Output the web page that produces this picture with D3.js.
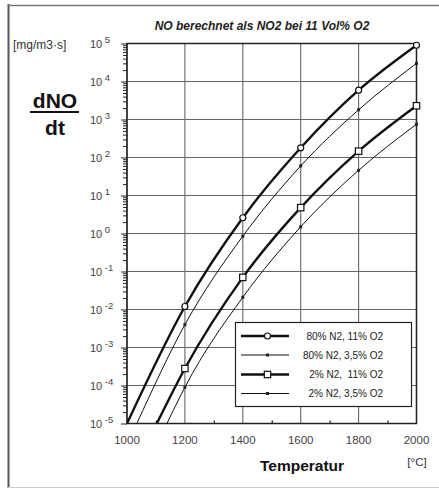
<!DOCTYPE html>
<html>
<head>
<meta charset="utf-8">
<script src="https://cdn.jsdelivr.net/npm/d3@7"></script>
<style>
  html, body { margin: 0; padding: 0; background: #fff; }
  svg { display: block; font-family: "Liberation Sans", Arial, sans-serif; }
</style>
</head>
<body>
<svg id="chart" width="439" height="490"></svg>
<script>
// Temperatures with markers (°C)
const temps = [1200, 1400, 1600, 1800, 2000];

// Formation rate dNO/dt [mg/m3·s] per mixture at the marked temperatures
const s80n11o = [1.2e-2, 2.6, 180, 5900, 90000];
const s80n35o = [4.0e-3, 0.85, 60, 1800, 30000];
const s2n11o  = [2.8e-4, 0.07, 4.8, 147, 2300];
const s2n35o  = [9.0e-5, 0.021, 1.5, 46, 750];

// Temperature where each curve enters the chart at the 10^-5 floor
const entryTemps = [1000, 1034, 1103, 1138];
const floorValue = 1e-5;

const seriesNames = ["80% N2, 11% O2", "80% N2, 3,5% O2", "2% N2,  11% O2", "2% N2, 3,5% O2"];
const seriesValues = [s80n11o, s80n35o, s2n11o, s2n35o];
const seriesStyle = [
  { width: 2.4, marker: "circle" },
  { width: 1.0, marker: "dot" },
  { width: 2.4, marker: "square" },
  { width: 1.0, marker: "dot" }
];

const xTicks = [1000, 1200, 1400, 1600, 1800, 2000];
const yExponents = [5, 4, 3, 2, 1, 0, -1, -2, -3, -4, -5];

const svg = d3.select("#chart");

// Outer frame
svg.append("line").attr("x1", 8.5).attr("x2", 8.5).attr("y1", 4).attr("y2", 488)
  .attr("stroke", "#555").attr("stroke-width", 2);
svg.append("line").attr("x1", 8).attr("x2", 439).attr("y1", 5.5).attr("y2", 5.5)
  .attr("stroke", "#777").attr("stroke-width", 1.5);
svg.append("line").attr("x1", 8).attr("x2", 439).attr("y1", 487.5).attr("y2", 487.5)
  .attr("stroke", "#ccc").attr("stroke-width", 1);

const pLeft = 127, pRight = 416.5, pTop = 43.5, pBottom = 423.5;
const x = d3.scaleLinear().domain([1000, 2000]).range([pLeft, pRight]);
const y = d3.scaleLog().domain([1e-5, 1e5]).range([pBottom, pTop]);

// Grid
const grid = svg.append("g").attr("stroke", "#666").attr("stroke-width", 1.1);
yExponents.forEach(e => {
  grid.append("line").attr("x1", pLeft).attr("x2", pRight)
    .attr("y1", y(Math.pow(10, e))).attr("y2", y(Math.pow(10, e)));
});
xTicks.forEach(t => {
  grid.append("line").attr("x1", x(t)).attr("x2", x(t)).attr("y1", pTop).attr("y2", pBottom);
});

// Y axis with log minor ticks
const yAxis = d3.axisLeft(y)
  .tickValues(d3.range(-5, 5).flatMap(e => d3.range(1, 10).map(m => m * Math.pow(10, e))).concat([1e5]))
  .tickSize(4).tickFormat("");
const yg = svg.append("g").attr("transform", `translate(${pLeft},0)`).call(yAxis);
yg.select(".domain").remove();
yg.selectAll(".tick line").attr("stroke", "#222").attr("stroke-width", 1)
  .attr("x2", d => Math.abs(Math.log10(d) - Math.round(Math.log10(d))) < 1e-9 ? -6 : -4);

// Y tick labels: 10 with superscript exponent
const ylab = svg.append("g").attr("font-size", 11).attr("fill", "#444");
yExponents.forEach(e => {
  const t = ylab.append("text").attr("x", 90).attr("y", y(Math.pow(10, e)) + 4);
  t.append("tspan").text("10");
  t.append("tspan").attr("dx", 2.5).attr("dy", -5).attr("font-size", 9.5).text(e < 0 ? "-" + (-e) : String(e));
});

// X axis: minor ticks every 100 °C
const xAxis = d3.axisBottom(x).tickValues(d3.range(1100, 2000, 200)).tickSize(-3).tickFormat("");
const xg = svg.append("g").attr("transform", `translate(0,${pBottom})`).call(xAxis);
xg.select(".domain").remove();
xg.selectAll(".tick line").attr("stroke", "#222").attr("stroke-width", 1.2);

svg.append("g").attr("font-size", 11.5).attr("fill", "#444").attr("text-anchor", "middle")
  .selectAll("text").data(xTicks).join("text")
  .attr("x", d => x(d)).attr("y", pBottom + 20).text(d => d);

// Plot border
svg.append("rect").attr("x", pLeft).attr("y", pTop).attr("width", pRight - pLeft).attr("height", pBottom - pTop)
  .attr("fill", "none").attr("stroke", "#222").attr("stroke-width", 1.5);

// Curves
svg.append("clipPath").attr("id", "plotclip").append("rect")
  .attr("x", pLeft).attr("y", pTop - 2).attr("width", pRight - pLeft + 2).attr("height", pBottom - pTop + 2);
const line = d3.line().x(d => x(d[0])).y(d => y(d[1])).curve(d3.curveMonotoneX);
const curves = svg.append("g").attr("clip-path", "url(#plotclip)");

function drawMarker(g, type, cx, cy) {
  if (type === "circle") {
    g.append("circle").attr("cx", cx).attr("cy", cy).attr("r", 3)
      .attr("fill", "#fff").attr("stroke", "#111").attr("stroke-width", 1.2);
  } else if (type === "square") {
    g.append("rect").attr("x", cx - 3.2).attr("y", cy - 3.2).attr("width", 6.4).attr("height", 6.4)
      .attr("fill", "#fff").attr("stroke", "#111").attr("stroke-width", 1.2);
  } else {
    g.append("rect").attr("x", cx - 1.5).attr("y", cy - 1.5).attr("width", 3).attr("height", 3)
      .attr("fill", "#222");
  }
}

seriesValues.forEach((vals, i) => {
  const pts = [[entryTemps[i], floorValue]].concat(temps.map((t, j) => [t, vals[j]]));
  curves.append("path").attr("d", line(pts)).attr("fill", "none")
    .attr("stroke", "#111").attr("stroke-width", seriesStyle[i].width).attr("stroke-linejoin", "round");
});
seriesValues.forEach((vals, i) => {
  temps.forEach((t, j) => drawMarker(svg, seriesStyle[i].marker, x(t), y(vals[j])));
});

// Legend
const lg = svg.append("g");
lg.append("rect").attr("x", 235.5).attr("y", 322.5).attr("width", 176).attr("height", 84)
  .attr("fill", "#fff").attr("stroke", "#222").attr("stroke-width", 1.2);
const rowY = [336, 355, 374.5, 393.5];
seriesNames.forEach((name, i) => {
  lg.append("line").attr("x1", 241).attr("x2", 289).attr("y1", rowY[i]).attr("y2", rowY[i])
    .attr("stroke", "#111").attr("stroke-width", seriesStyle[i].width);
  drawMarker(lg, seriesStyle[i].marker, 267.5, rowY[i]);
  lg.append("text").attr("x", 383).attr("y", rowY[i] + 3.5).attr("text-anchor", "end")
    .attr("font-size", 10).attr("fill", "#222").attr("xml:space", "preserve").text(name);
});

// Titles and units
svg.append("text").attr("x", 262).attr("y", 30).attr("text-anchor", "middle")
  .attr("font-size", 12).attr("font-style", "italic").attr("font-weight", "bold").attr("fill", "#222")
  .text("NO berechnet als NO2 bei 11 Vol% O2");
svg.append("text").attr("x", 13).attr("y", 49).attr("font-size", 12).attr("fill", "#333")
  .text("[mg/m3·s]");
svg.append("text").attr("x", 55).attr("y", 107.5).attr("text-anchor", "middle")
  .attr("font-size", 21).attr("font-weight", "bold").attr("fill", "#111").text("dNO");
svg.append("line").attr("x1", 30).attr("x2", 79).attr("y1", 112).attr("y2", 112)
  .attr("stroke", "#111").attr("stroke-width", 2);
svg.append("text").attr("x", 55).attr("y", 135).attr("text-anchor", "middle")
  .attr("font-size", 21).attr("font-weight", "bold").attr("fill", "#111").text("dt");
svg.append("text").attr("x", 302).attr("y", 471).attr("text-anchor", "middle")
  .attr("font-size", 15.5).attr("font-weight", "bold").attr("fill", "#111").text("Temperatur");
svg.append("text").attr("x", 417).attr("y", 466).attr("text-anchor", "middle")
  .attr("font-size", 11.5).attr("fill", "#333").text("[°C]");
</script>
</body>
</html>
